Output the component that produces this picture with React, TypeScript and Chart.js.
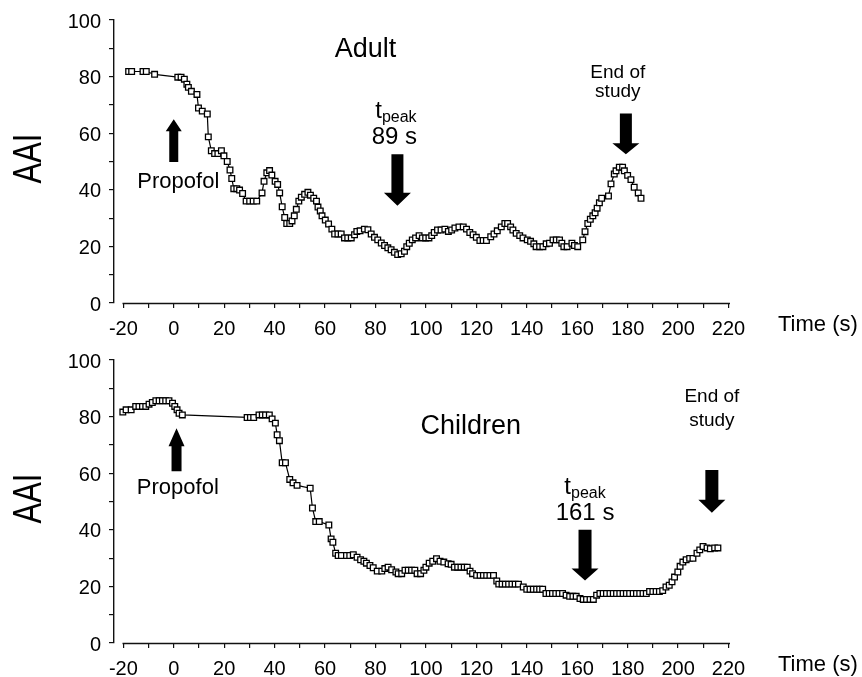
import React, { useEffect, useRef } from "react";
import { Chart, registerables } from "chart.js";

Chart.register(...registerables);

// ---------- data ----------
const adultTime = [
  -17.9, -16.7, -12.2, -10.9, -7.6, 1.6, 2.9, 4.2, 5.2, 5.8,
  7.0, 9.2, 9.8, 11.3, 13.3, 13.7, 14.9, 16.2, 17.5, 18.9,
  19.9, 21.2, 22.3, 23.0, 23.8, 25.0, 26.1, 27.3, 28.7, 30.1,
  31.5, 32.9, 35.0, 35.8, 36.9, 38.0, 38.9, 40.2, 41.2, 42.0,
  43.0, 44.0, 44.8, 46.0, 46.9, 47.8, 48.6, 49.6, 50.6, 51.9,
  53.2, 54.2, 55.5, 56.6, 57.2, 58.1, 58.8, 60.1, 61.4, 62.7,
  63.8, 65.1, 66.4, 67.7, 69.0, 70.4, 71.7, 72.6, 73.9, 75.6,
  77.0, 78.3, 79.6, 80.9, 82.3, 83.6, 84.9, 86.2, 87.5, 88.8,
  90.2, 91.5, 92.4, 93.4, 94.6, 95.9, 97.3, 98.6, 99.9, 101.2,
  102.3, 103.3, 104.6, 106.0, 107.5, 108.9, 110.2, 111.5, 113.1, 114.8,
  116.1, 117.4, 118.7, 120.0, 121.4, 122.7, 124.0, 125.7, 127.0, 128.3,
  129.9, 131.3, 132.4, 133.6, 134.5, 135.8, 137.2, 138.5, 140.2, 141.5,
  142.8, 143.7, 145.1, 146.4, 147.7, 149.0, 150.4, 151.7, 153.0, 153.9,
  154.7, 156.0, 157.9, 158.9, 160.2, 162.2, 163.1, 164.2, 165.2, 166.2,
  167.1, 167.9, 168.8, 169.7, 172.4, 173.4, 174.7, 175.4, 176.7, 178.0,
  178.7, 180.0, 181.3, 182.6, 184.2, 185.3,
];
const adultAAI = [
  81.8, 81.8, 81.8, 81.8, 80.8, 79.8, 79.8, 79.1, 77.3, 76.2,
  74.8, 73.7, 68.9, 67.8, 66.8, 58.7, 53.8, 52.8, 52.8, 53.8,
  52.0, 50.0, 47.0, 44.0, 40.4, 40.4, 39.9, 38.7, 36.0, 36.0,
  36.0, 36.0, 38.9, 43.0, 46.0, 46.8, 45.2, 43.0, 41.9, 38.9,
  34.0, 30.2, 28.1, 28.1, 29.0, 30.8, 33.1, 36.0, 37.4, 38.4,
  39.1, 38.1, 37.0, 36.0, 33.9, 32.5, 30.8, 29.3, 27.9, 26.1,
  24.4, 24.4, 24.4, 23.0, 23.0, 23.0, 24.1, 25.3, 25.5, 26.1,
  25.9, 24.4, 23.2, 22.3, 21.2, 20.3, 19.5, 18.8, 17.9, 17.1,
  17.4, 18.3, 19.9, 21.1, 22.3, 23.0, 23.8, 23.0, 23.0, 23.0,
  23.8, 24.9, 25.8, 25.8, 26.1, 25.3, 25.8, 26.5, 26.9, 26.9,
  26.1, 24.9, 24.1, 23.2, 22.1, 22.1, 22.1, 23.4, 24.4, 25.5,
  26.9, 28.1, 28.1, 26.9, 25.8, 24.6, 23.8, 23.0, 22.3, 21.8,
  20.9, 19.9, 19.9, 19.9, 20.9, 21.1, 22.3, 22.3, 22.3, 21.1,
  19.9, 19.9, 21.1, 20.3, 19.9, 22.3, 25.2, 28.1, 29.6, 30.8,
  31.9, 33.5, 35.4, 37.0, 37.8, 42.1, 45.6, 46.7, 48.0, 48.0,
  46.7, 45.1, 43.6, 40.9, 38.9, 37.0,
];

const childTime = [
  -20.2, -18.9, -16.9, -15.1, -13.8, -12.4, -11.1, -9.8, -8.5, -7.1,
  -5.8, -4.5, -3.2, -1.9, -0.5, 0.4, 1.3, 2.1, 3.4, 29.1,
  30.4, 31.7, 33.8, 35.1, 36.4, 37.9, 39.0, 40.3, 41.0, 41.9,
  43.0, 44.3, 46.0, 47.3, 48.9, 54.1, 55.0, 56.3, 57.7, 61.5,
  62.4, 63.1, 64.2, 65.2, 66.5, 68.5, 69.8, 71.2, 72.7, 74.1,
  75.4, 76.4, 77.8, 79.1, 80.7, 82.5, 83.7, 85.0, 86.4, 88.1,
  89.0, 90.4, 91.7, 93.0, 94.3, 95.6, 96.5, 97.9, 99.2, 100.0,
  101.3, 102.7, 104.2, 105.6, 107.1, 108.8, 110.0, 111.3, 112.6, 113.9,
  115.2, 116.4, 117.5, 118.5, 120.1, 121.5, 122.8, 124.1, 125.4, 126.8,
  128.1, 128.9, 130.2, 131.5, 132.8, 134.1, 135.4, 136.7, 138.6, 140.0,
  141.3, 142.6, 143.9, 145.1, 146.3, 147.6, 148.9, 150.2, 151.5, 152.8,
  154.2, 155.6, 157.0, 158.3, 159.6, 161.1, 162.4, 163.7, 165.1, 166.4,
  167.7, 169.0, 170.3, 171.6, 173.0, 174.3, 175.6, 176.9, 178.2, 179.5,
  180.8, 182.2, 183.5, 184.8, 186.1, 187.4, 188.7, 190.0, 191.3, 192.6,
  193.9, 195.2, 196.5, 197.6, 198.6, 199.9, 200.8, 201.9, 203.2, 204.6,
  205.9, 207.5, 208.6, 209.9, 211.5, 212.8, 214.5, 215.8,
];
const childAAI = [
  81.6, 82.4, 82.4, 83.6, 83.6, 83.6, 83.6, 84.4, 85.0, 85.6,
  85.6, 85.6, 85.6, 85.6, 84.7, 83.6, 82.4, 81.2, 80.6, 79.7,
  79.7, 79.7, 80.6, 80.6, 80.6, 80.6, 79.2, 77.7, 73.6, 71.5,
  63.7, 63.7, 57.8, 56.6, 55.7, 54.7, 47.7, 42.9, 42.9, 41.7,
  36.8, 35.6, 31.7, 30.9, 30.9, 30.9, 30.9, 31.2, 30.3, 29.4,
  28.9, 28.2, 27.4, 26.6, 25.4, 25.4, 26.3, 26.8, 25.9, 25.1,
  24.5, 24.5, 25.7, 25.7, 25.7, 25.7, 24.5, 24.5, 25.7, 26.8,
  28.2, 28.9, 29.8, 28.9, 28.6, 28.0, 27.8, 26.8, 26.8, 26.8,
  26.8, 26.8, 25.4, 24.5, 23.9, 23.9, 23.9, 23.9, 23.9, 23.9,
  21.9, 20.8, 20.8, 20.8, 20.8, 20.8, 20.8, 20.8, 19.8, 19.0,
  19.0, 19.0, 19.0, 19.0, 19.0, 17.5, 17.5, 17.5, 17.5, 17.5,
  17.5, 16.9, 16.5, 16.5, 16.5, 15.7, 15.4, 15.4, 15.4, 15.4,
  16.9, 17.5, 17.5, 17.5, 17.5, 17.5, 17.5, 17.5, 17.5, 17.5,
  17.5, 17.5, 17.5, 17.5, 17.5, 17.5, 18.2, 18.2, 18.2, 18.2,
  18.5, 19.8, 20.4, 21.6, 23.3, 25.1, 27.1, 28.6, 29.4, 29.9,
  29.9, 31.7, 32.9, 34.1, 33.6, 33.3, 33.6, 33.6,
];

const xTickLabels = [-20, 0, 20, 40, 60, 80, 100, 120, 140, 160, 180, 200, 220];
const yTickLabels = [0, 20, 40, 60, 80, 100];
const xMinorStep = 10;
const yMinorStep = 10;

// ---------- annotations ----------
const adultNotes = {
  texts: [
    { text: "Adult", x: 76, y: 87, size: 27 },
    { text: "Propofol", x: 1.8, y: 40.7, size: 22 },
    { text: "89 s", x: 87.5, y: 56.1, size: 24 },
    { text: "End of", x: 176.1, y: 79.6, size: 19 },
    { text: "study", x: 176.1, y: 72.8, size: 19 },
  ],
  peak: { x: 88.1, y: 65.4, ySub: 64.0 },
  arrows: [
    { x: 0, from: 49.8, to: 64.9, shaft: 9, head: 16, headLen: 12 },
    { x: 88.7, from: 52.6, to: 34.4, shaft: 12, head: 27, headLen: 13 },
    { x: 179.3, from: 67.0, to: 52.6, shaft: 12, head: 27, headLen: 11 },
  ],
};
const childNotes = {
  texts: [
    { text: "Children", x: 117.8, y: 74.0, size: 27 },
    { text: "Propofol", x: 1.6, y: 52.5, size: 22 },
    { text: "161 s", x: 163.1, y: 43.5, size: 24 },
    { text: "End of", x: 213.4, y: 85.3, size: 19 },
    { text: "study", x: 213.4, y: 76.8, size: 19 },
  ],
  peak: { x: 163.1, y: 52.6, ySub: 51.2 },
  arrows: [
    { x: 1.1, from: 60.7, to: 75.9, shaft: 10, head: 16, headLen: 18 },
    { x: 163.1, from: 40.0, to: 22.1, shaft: 13, head: 27, headLen: 12 },
    { x: 213.4, from: 61.1, to: 46.0, shaft: 13, head: 27, headLen: 13 },
  ],
};

const FONT = '"Liberation Sans", Arial, Helvetica, sans-serif';
const AXIS_COLOR = "#111";

function range(a: number, b: number, step: number) {
  const out: number[] = [];
  for (let v = a; v <= b + 1e-9; v += step) out.push(Math.round(v * 1000) / 1000);
  return out;
}

function makeAnnotationPlugin(notes: any) {
  return {
    id: "notes",
    afterDraw(chart: any) {
      const { ctx, scales, chartArea } = chart;
      const xs = scales.x;
      const ys = scales.y;
      ctx.save();
      // x axis line from first to last tick
      const yb = Math.round(chartArea.bottom) + 0.5;
      ctx.strokeStyle = AXIS_COLOR;
      ctx.lineWidth = 1.4;
      ctx.beginPath();
      ctx.moveTo(Math.round(xs.getPixelForValue(xTickLabels[0])) - 0.5, yb);
      ctx.lineTo(Math.round(xs.getPixelForValue(xTickLabels[xTickLabels.length - 1])) + 1, yb);
      ctx.stroke();

      // y axis title, drawn wide like the original
      ctx.fillStyle = "#000";
      ctx.save();
      ctx.translate(28, (chartArea.top + chartArea.bottom) / 2 - 3);
      ctx.rotate(-Math.PI / 2);
      ctx.scale(1, 1.32);
      ctx.font = `31px ${FONT}`;
      ctx.textAlign = "center";
      ctx.textBaseline = "middle";
      ctx.fillText("AAI", 0, 1);
      ctx.restore();

      // x axis caption
      ctx.font = `22px ${FONT}`;
      ctx.textAlign = "left";
      ctx.textBaseline = "middle";
      ctx.fillText("Time (s)", chartArea.right + 49.5, chartArea.bottom + 22);

      ctx.textBaseline = "alphabetic";
      ctx.textAlign = "center";
      for (const t of notes.texts) {
        ctx.font = `${t.size}px ${FONT}`;
        ctx.fillText(t.text, xs.getPixelForValue(t.x), ys.getPixelForValue(t.y));
      }
      // t_peak
      const p = notes.peak;
      ctx.font = `24px ${FONT}`;
      const wT = ctx.measureText("t").width;
      ctx.font = `16px ${FONT}`;
      const wP = ctx.measureText("peak").width;
      const cx = xs.getPixelForValue(p.x);
      const left = cx - (wT + wP) / 2;
      ctx.textAlign = "left";
      ctx.font = `24px ${FONT}`;
      ctx.fillText("t", left, ys.getPixelForValue(p.y));
      ctx.font = `16px ${FONT}`;
      ctx.fillText("peak", left + wT, ys.getPixelForValue(p.ySub));

      // arrows
      for (const a of notes.arrows) {
        const x = xs.getPixelForValue(a.x);
        const y0 = ys.getPixelForValue(a.from);
        const y1 = ys.getPixelForValue(a.to);
        const dir = y1 > y0 ? 1 : -1;
        const yh = y1 - dir * a.headLen;
        ctx.beginPath();
        ctx.moveTo(x - a.shaft / 2, y0);
        ctx.lineTo(x + a.shaft / 2, y0);
        ctx.lineTo(x + a.shaft / 2, yh);
        ctx.lineTo(x + a.head / 2, yh);
        ctx.lineTo(x, y1);
        ctx.lineTo(x - a.head / 2, yh);
        ctx.lineTo(x - a.shaft / 2, yh);
        ctx.closePath();
        ctx.fill();
      }
      ctx.restore();
    },
  };
}

function buildChart(canvas: HTMLCanvasElement, times: number[], values: number[], notes: any) {
  const points = times.map((t, i) => ({ x: t, y: values[i] }));
  const xMinor = range(xTickLabels[0], xTickLabels[xTickLabels.length - 1], xMinorStep);
  const yMinor = range(yTickLabels[0], yTickLabels[yTickLabels.length - 1], yMinorStep);
  return new Chart(canvas, {
    type: "line",
    data: {
      datasets: [
        {
          data: points,
          borderColor: "#000",
          borderWidth: 1.2,
          pointStyle: "rect",
          pointRadius: 4,
          pointBorderWidth: 1.3,
          pointBackgroundColor: "#fff",
          pointBorderColor: "#000",
          tension: 0,
          fill: false,
        },
      ],
    },
    options: {
      responsive: false,
      animation: false,
      events: [],
      layout: { padding: { top: 18, right: 133.5, left: 0, bottom: 0 } },
      plugins: { legend: { display: false }, tooltip: { enabled: false } },
      scales: {
        x: {
          type: "linear",
          min: -23.7,
          max: 220,
          afterBuildTicks: (s: any) => {
            s.ticks = xMinor.map((v) => ({ value: v }));
          },
          afterFit: (s: any) => {
            s.height = 34;
          },
          grid: { display: true, drawOnChartArea: false, drawTicks: true, tickLength: 5, color: AXIS_COLOR, lineWidth: 1.2 },
          border: { display: false },
          ticks: {
            autoSkip: false,
            maxRotation: 0,
            padding: 9,
            color: "#000",
            font: { family: FONT, size: 20 },
            callback: (v: any) => (xTickLabels.includes(Number(v)) ? String(v) : ""),
          },
        },
        y: {
          type: "linear",
          min: 0,
          max: 100,
          afterBuildTicks: (s: any) => {
            s.ticks = yMinor.map((v) => ({ value: v }));
          },
          afterFit: (s: any) => {
            s.width = 114;
          },
          title: { display: false },
          grid: { display: true, drawOnChartArea: false, drawTicks: true, tickLength: 5, color: AXIS_COLOR, lineWidth: 1.2 },
          border: { display: true, color: AXIS_COLOR, width: 1.4 },
          ticks: {
            autoSkip: false,
            padding: 8,
            labelOffset: 2,
            color: "#000",
            font: { family: FONT, size: 20 },
            callback: (v: any) => (yTickLabels.includes(Number(v)) ? String(v) : ""),
          },
        },
      },
    },
    plugins: [makeAnnotationPlugin(notes)],
  } as any);
}

function Panel({ times, values, notes, top }: any) {
  const ref = useRef<HTMLCanvasElement | null>(null);
  useEffect(() => {
    if (!ref.current) return;
    const c = buildChart(ref.current, times, values, notes);
    return () => c.destroy();
  }, []);
  return (
    <canvas
      ref={ref}
      width={862}
      height={337}
      style={{ position: "absolute", left: 0, top, width: 862, height: 337, display: "block" }}
    />
  );
}

export default function App() {
  return (
    <div style={{ position: "absolute", left: 0, top: 0, width: 862, height: 677, background: "#fff" }}>
      <Panel times={adultTime} values={adultAAI} notes={adultNotes} top={0} />
      <Panel times={childTime} values={childAAI} notes={childNotes} top={340} />
    </div>
  );
}
